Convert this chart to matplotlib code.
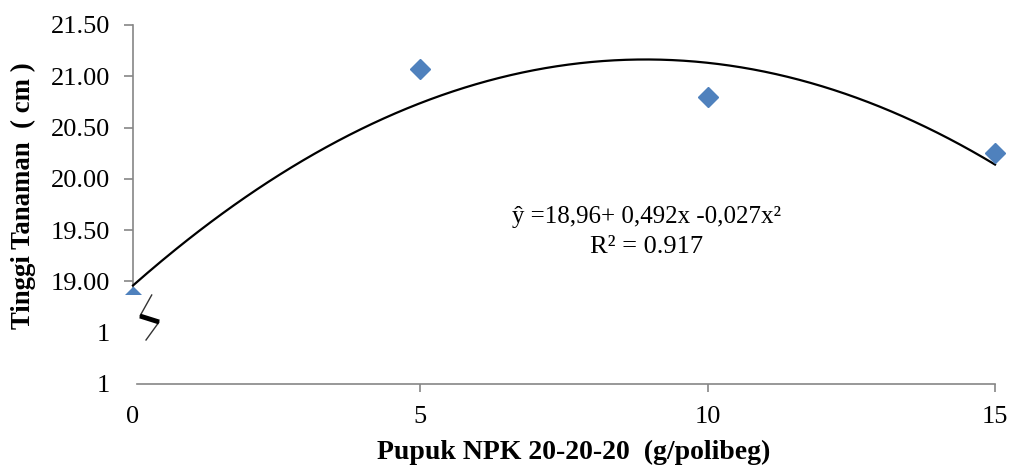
import numpy as np
import matplotlib
matplotlib.use("Agg")
import matplotlib.pyplot as plt
from matplotlib.patches import Rectangle
from matplotlib.lines import Line2D

# ---- data ----
dose = [0, 5, 10, 15]                       # Pupuk NPK (g/polibeg)
height = [18.85, 21.07, 20.80, 20.25]       # Tinggi tanaman (cm)
yticks = [18.0, 18.5, 19.0, 19.5, 20.0, 20.5, 21.0, 21.5]
ytick_labels = ["1", "1", "19.00", "19.50", "20.00", "20.50", "21.00", "21.50"]
xticks = [0, 5, 10, 15]
xtick_labels = ["0", "5", "10", "15"]
eq_text = "ŷ =18,96+ 0,492x -0,027x²"
r2_text = "R² = 0.917"

plt.rcParams['font.family'] = ['Liberation Serif', 'DejaVu Serif']

fig = plt.figure(figsize=(10.12, 4.68), dpi=100)
W, H = 1012, 468
ax_l, ax_r, ax_t, ax_b = 133, 995, 25, 384
ax = fig.add_axes([ax_l / W, 1 - ax_b / H, (ax_r - ax_l) / W, (ax_b - ax_t) / H])

ax.set_xlim(0, 15)
ax.set_ylim(18.0, 21.5)

grey = '#868686'
for s in ['top', 'right']:
    ax.spines[s].set_visible(False)
ax.spines['left'].set_color(grey)
ax.spines['bottom'].set_color(grey)
ax.spines['left'].set_linewidth(1.2)
ax.spines['bottom'].set_linewidth(1.2)
ax.spines['left'].set_bounds(18.88, 21.5)
ax.spines['bottom'].set_bounds(0.07, 15)

ax.set_yticks(yticks)
ax.set_yticklabels(ytick_labels)
ax.set_xticks(xticks)
ax.set_xticklabels(xtick_labels)
ax.tick_params(axis='y', direction='out', length=6.5, width=1.2, color=grey,
               pad=10, labelsize=19)
ax.tick_params(axis='x', direction='out', length=5.5, width=1.2, color=grey,
               pad=10.5, labelsize=19)
for t in ax.yaxis.get_major_ticks()[:2]:
    t.tick1line.set_visible(False)
ax.xaxis.get_major_ticks()[0].tick1line.set_visible(False)

# trendline (quadratic fit)
coef = np.polyfit(dose, height, 2)
xs = np.linspace(min(dose), max(dose), 300)
ax.plot(xs, np.polyval(coef, xs), color='black', lw=1.6, zorder=3, clip_on=False)

# data points
ax.plot(dose, height, linestyle='none', marker='D', markersize=10.5,
        color='#4F81BD', zorder=4, clip_on=False)

# axis break (white mask + zigzag)
ax.add_patch(Rectangle((-0.2, 18.6), 0.7, 18.865 - 18.6, facecolor='white',
                       edgecolor='none', zorder=5, clip_on=False))
bx = [0.0217, 0.0081, 0.0302, 0.0151]
by = [0.2479, 0.1894, 0.1727, 0.1226]
ax.add_line(Line2D(bx, by, transform=ax.transAxes, color='#333333', lw=1.0,
                   zorder=6, clip_on=False))
ax.add_line(Line2D(bx[1:3], by[1:3], transform=ax.transAxes, color='black', lw=3.5,
                   zorder=6, clip_on=False, solid_capstyle='butt'))

# equation
ax.text(8.94, 19.57, eq_text, fontsize=18, ha='center', va='baseline')
ax.text(8.94, 19.28, r2_text, fontsize=19, ha='center', va='baseline')

ax.set_xlabel("Pupuk NPK 20-20-20  (g/polibeg)", fontsize=20, fontweight='bold')
ax.xaxis.set_label_coords(0.5116, -0.155)
ax.set_ylabel("Tinggi Tanaman  ( cm )", fontsize=19.3, fontweight='bold', va='center')
ax.yaxis.set_label_coords(-0.1276, 0.5237)

fig.savefig("out.png", dpi=100)
